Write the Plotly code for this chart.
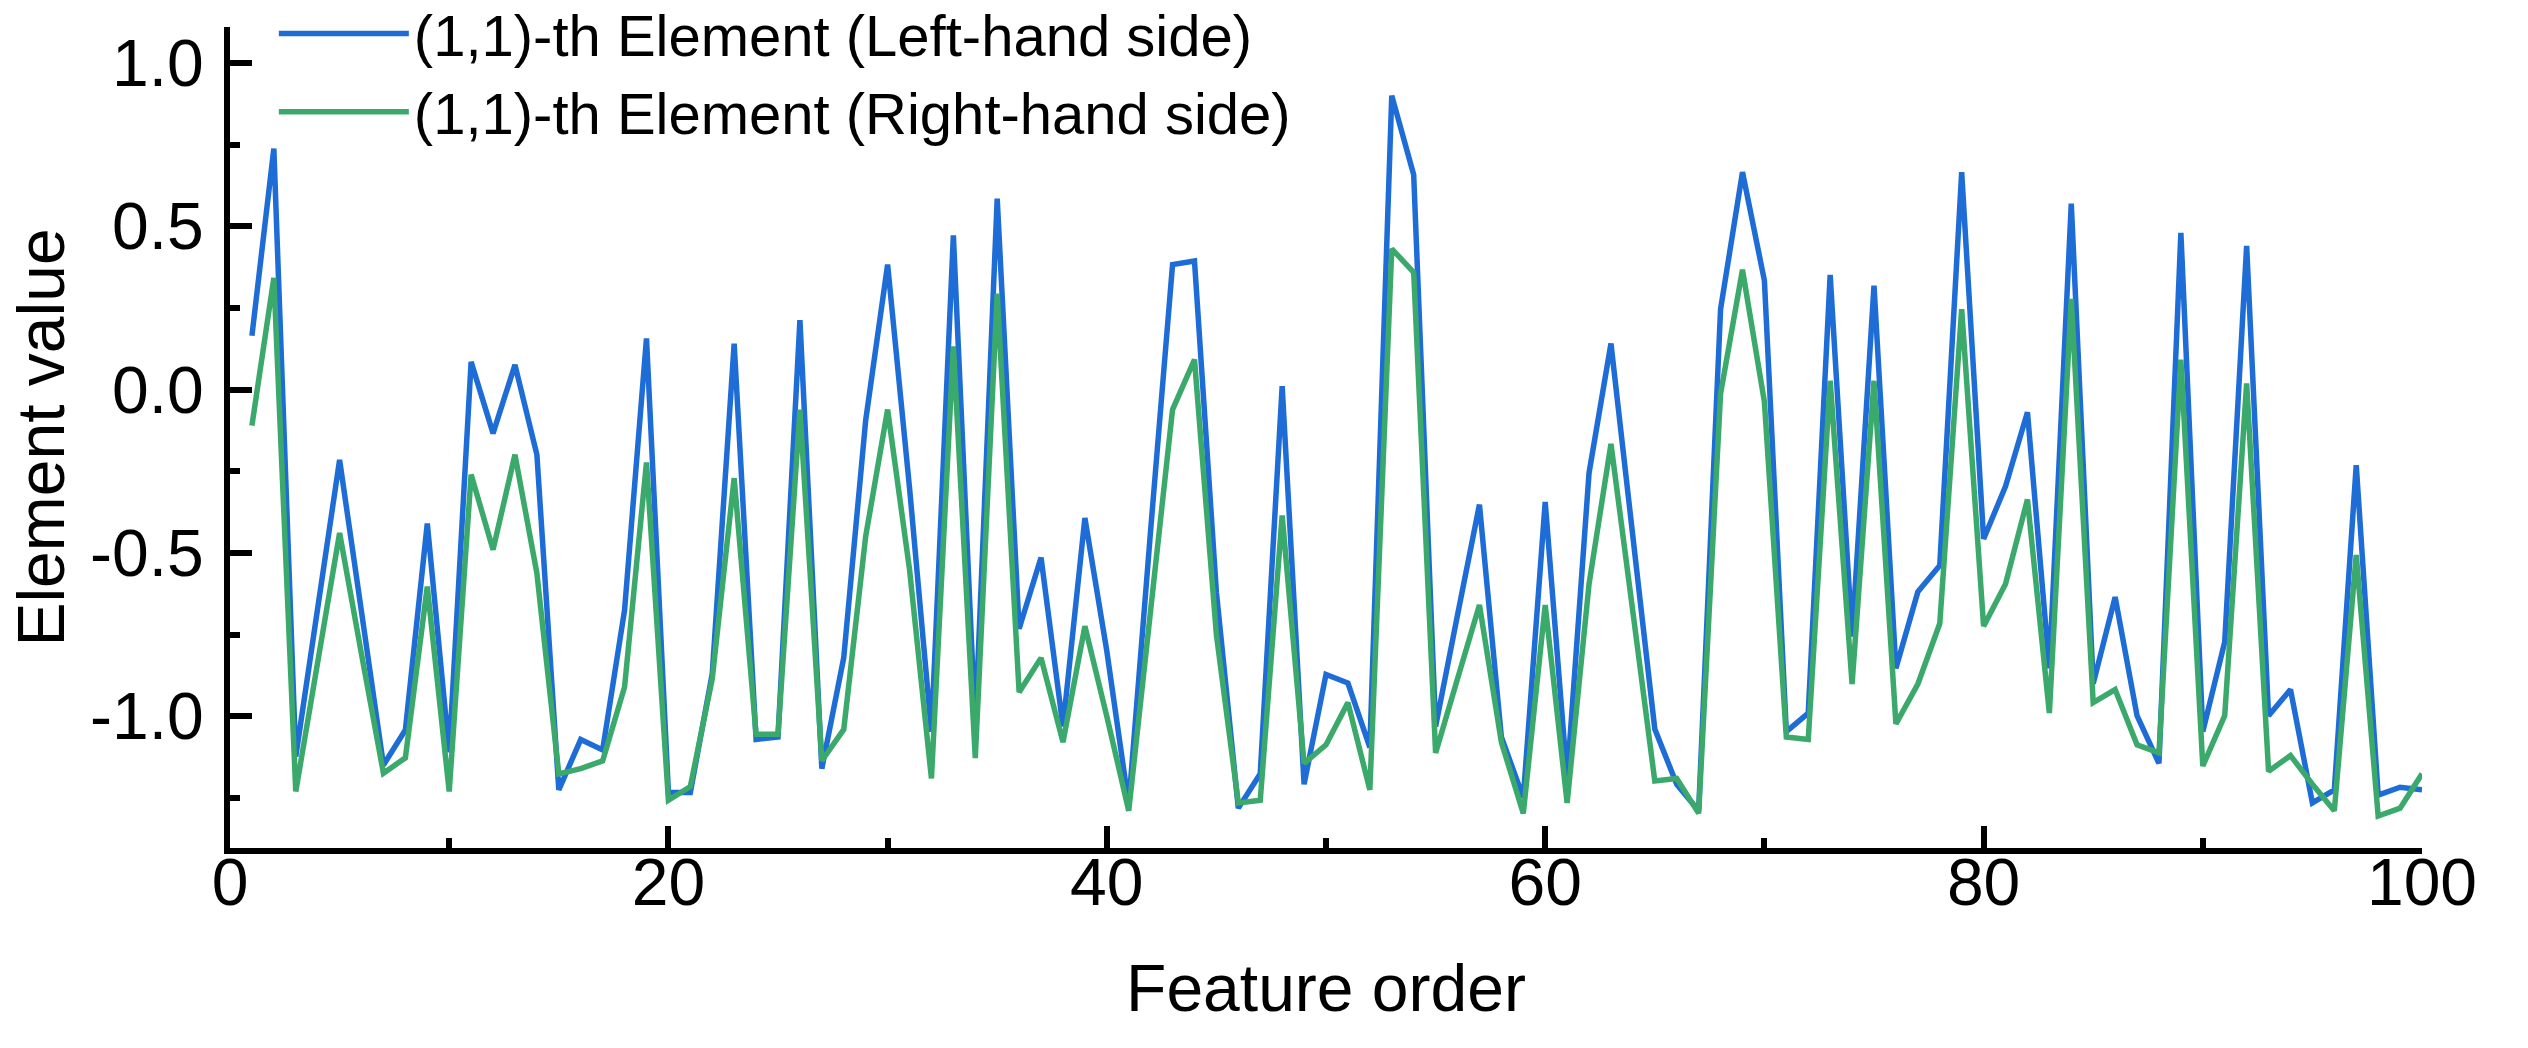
import plotly.graph_objects as go

feature_order = list(range(1, 101))

lhs_values = [
    0.165, 0.738, -1.123, -0.67, -0.215, -0.68, -1.149, -1.042, -0.41, -1.11,
    0.085, -0.134, 0.076, -0.199, -1.225, -1.071, -1.103, -0.675, 0.157, -1.233,
    -1.233, -0.87, 0.141, -1.071, -1.063, 0.213, -1.16, -0.82, -0.094, 0.383,
    -0.30, -1.047, 0.472, -1.03, 0.585, -0.732, -0.514, -1.031, -0.393, -0.80,
    -1.27, -0.43, 0.383, 0.394, -0.62, -1.281, -1.176, 0.011, -1.208, -0.872,
    -0.898, -1.095, 0.90, 0.658, -1.031, -0.69, -0.352, -1.063, -1.249, -0.344,
    -1.19, -0.255, 0.141, -0.45, -1.039, -1.208, -1.289, 0.246, 0.666, 0.334,
    -1.047, -0.99, 0.351, -0.756, 0.318, -0.853, -0.619, -0.538, 0.666, -0.457,
    -0.296, -0.069, -0.853, 0.569, -0.90, -0.635, -0.998, -1.144, 0.48, -1.047,
    -0.772, 0.44, -0.998, -0.918, -1.265, -1.225, -0.231, -1.241, -1.217, -1.225,
]

rhs_values = [
    -0.11, 0.342, -1.23, -0.83, -0.439, -0.81, -1.174, -1.127, -0.603, -1.23,
    -0.26, -0.49, -0.199, -0.562, -1.176, -1.16, -1.136, -0.91, -0.223, -1.257,
    -1.215, -0.885, -0.271, -1.055, -1.055, -0.061, -1.136, -1.04, -0.449, -0.061,
    -0.55, -1.19, 0.132, -1.128, 0.294, -0.926, -0.821, -1.079, -0.724, -1.0,
    -1.289, -0.675, -0.061, 0.092, -0.75, -1.265, -1.257, -0.385, -1.144, -1.087,
    -0.958, -1.225, 0.431, 0.359, -1.112, -0.885, -0.659, -1.079, -1.297, -0.659,
    -1.265, -0.595, -0.166, -0.68, -1.198, -1.19, -1.297, -0.013, 0.367, -0.037,
    -1.063, -1.071, 0.027, -0.901, 0.027, -1.023, -0.901, -0.716, 0.246, -0.724,
    -0.595, -0.336, -0.99, 0.278, -0.958, -0.918, -1.087, -1.112, 0.092, -1.152,
    -0.998, 0.019, -1.168, -1.12, -1.208, -1.289, -0.506, -1.305, -1.281, -1.176,
]

y_tickvals = [1.0, 0.5, 0.0, -0.5, -1.0]
y_ticktext = ["1.0", "0.5", "0.0", "-0.5", "-1.0"]

BLUE = "#1E6CD6"
GREEN = "#3BA96B"
FONT = "Liberation Sans, Arial, sans-serif"

fig = go.Figure()
fig.add_trace(
    go.Scatter(
        x=feature_order,
        y=lhs_values,
        mode="lines",
        line=dict(color=BLUE, width=5.5),
        name="(1,1)-th Element (Left-hand side)",
    )
)
fig.add_trace(
    go.Scatter(
        x=feature_order,
        y=rhs_values,
        mode="lines",
        line=dict(color=GREEN, width=5.5),
        name="(1,1)-th Element (Right-hand side)",
    )
)

axis_common = dict(
    showline=True,
    linecolor="black",
    linewidth=6,
    showgrid=False,
    zeroline=False,
    ticks="inside",
    ticklen=22,
    tickwidth=6,
    tickcolor="black",
    tickfont=dict(family=FONT, size=66, color="black"),
)

fig.update_xaxes(
    range=[0, 100],
    tick0=0,
    dtick=20,
    minor=dict(tick0=0, dtick=10, ticks="inside", ticklen=10, tickwidth=6, tickcolor="black"),
    title=dict(text="Feature order", font=dict(family=FONT, size=66, color="black"), standoff=49),
    ticklabelstandoff=-28,
    **axis_common,
)
fig.update_yaxes(
    range=[-1.403, 1.110],
    tickmode="array",
    tickvals=y_tickvals,
    ticktext=y_ticktext,
    minor=dict(tickmode="linear", tick0=0, dtick=0.25, ticks="inside", ticklen=10, tickwidth=6, tickcolor="black"),
    title=dict(text="Element value", font=dict(family=FONT, size=66, color="black"), standoff=6),
    ticklabelstandoff=7,
    **axis_common,
)

fig.update_layout(
    width=2528,
    height=1048,
    margin=dict(l=230, r=106, t=27, b=200, autoexpand=False),
    plot_bgcolor="white",
    paper_bgcolor="white",
    font=dict(family=FONT, color="black"),
    showlegend=True,
    legend=dict(
        x=0.02,
        y=1.046,
        xanchor="left",
        yanchor="top",
        bgcolor="rgba(0,0,0,0)",
        font=dict(family=FONT, size=58, color="black"),
        itemwidth=130,
        tracegroupgap=0,
    ),
)

fig.write_html(
    "out.html",
    config={"displayModeBar": False},
    post_script="document.body.style.margin='0';",
)
